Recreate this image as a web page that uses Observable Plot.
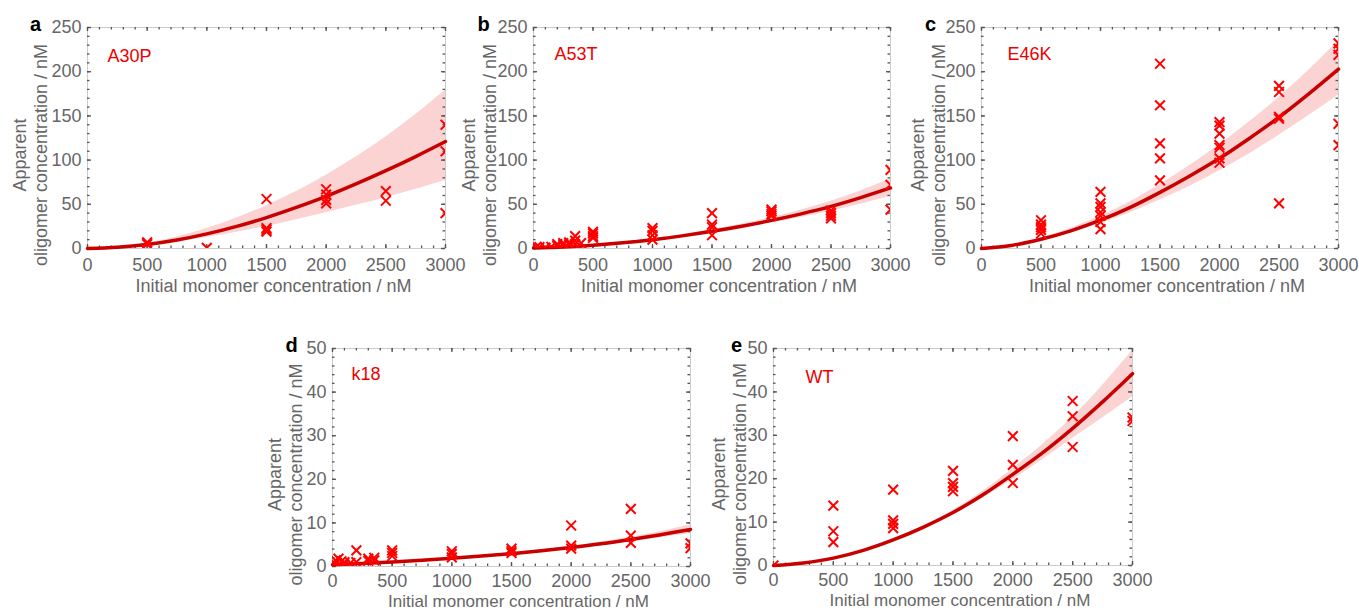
<!DOCTYPE html>
<html><head><meta charset="utf-8">
<script src="https://cdn.jsdelivr.net/npm/d3@7"></script>
<script src="https://cdn.jsdelivr.net/npm/@observablehq/plot@0.6"></script>
<style>
html,body{margin:0;padding:0;background:#fff;overflow:hidden;}
#fig{position:relative;width:1359px;height:610px;overflow:hidden;background:#fff;}
.panel{position:absolute;}
</style></head><body><div id="fig"></div>
<script>
// ---- shared axes ----
const xTicks = [0, 500, 1000, 1500, 2000, 2500, 3000];
const yTicksTop = [0, 50, 100, 150, 200, 250];
const yTicksBottom = [0, 10, 20, 30, 40, 50];
const xLabel = "Initial monomer concentration / nM";
const yLabel = "Apparent\noligomer concentration / nM";
const fitX = [0, 250, 500, 750, 1000, 1250, 1500, 1750, 2000, 2250, 2500, 2750, 3000];

// ---- a: A30P ----
const a30pX = [500, 500, 1000, 1500, 1500, 1500, 1500, 2000, 2000, 2000, 2000, 2500, 2500, 3000, 3000, 3000];
const a30pY = [7, 5, 0.8, 56, 23, 21, 19, 67, 61, 55, 51, 65, 54, 140, 110, 40];
const a30pFit = [0, 1.4, 4.6, 9.6, 16.5, 25, 35, 46.5, 59, 73, 88, 104, 121];
const a30pUpper = [0, 1.7, 6, 13, 22.5, 34.5, 48.5, 64.5, 83, 103.5, 126, 151.5, 179];
const a30pLower = [0, 1.2, 3.6, 7.4, 12.4, 18.3, 25, 32.5, 40.5, 48.8, 57.5, 67, 77];

// ---- b: A53T ----
const a53tX = [25, 50, 100, 150, 200, 200, 250, 250, 300, 300, 350, 350, 350, 400, 500, 500, 500, 500, 1000, 1000, 1000, 1000, 1500, 1500, 1500, 1500, 2000, 2000, 2000, 2000, 2500, 2500, 2500, 2500, 3000, 3000, 3000];
const a53tY = [2, 1.5, 1, 2, 3, 5, 4, 6, 5, 7, 14, 9, 5, 6, 19, 17, 14, 12, 23, 20, 15, 10, 40, 27, 24, 15, 44, 42, 39, 37, 43, 40, 37, 34, 89, 72, 44];
const a53tFit = [0.5, 1.6, 3.6, 6.4, 10, 14.3, 19.4, 25.2, 31.8, 39.2, 47.6, 57.6, 68.5];
const a53tUpper = [0.6, 1.8, 4, 7, 11, 15.8, 21.3, 27.7, 35, 43.6, 53.5, 65, 78.5];
const a53tLower = [0.4, 1.4, 3.2, 5.8, 9, 12.8, 17.5, 22.8, 28.8, 35.2, 42.2, 50, 59];

// ---- c: E46K ----
const e46kX = [500, 500, 500, 500, 500, 1000, 1000, 1000, 1000, 1000, 1000, 1000, 1500, 1500, 1500, 1500, 1500, 2000, 2000, 2000, 2000, 2000, 2000, 2000, 2500, 2500, 2500, 2500, 2500, 3000, 3000, 3000, 3000, 3000];
const e46kY = [32, 27, 24, 21, 17, 64, 51, 47, 41, 37, 30, 22, 209, 162, 119, 102, 77, 143, 139, 130, 117, 114, 102, 97, 184, 177, 149, 147, 51, 232, 226, 219, 141, 117];
const e46kFit = [0, 3.4, 10.5, 20, 32, 46.5, 63.5, 82, 102, 124.5, 148.5, 175, 203];
const e46kUpper = [0, 3.8, 12, 23, 36.5, 53, 72.5, 94, 117.5, 143, 171, 201.5, 235];
const e46kLower = [0, 3, 9.2, 17.5, 28, 40.5, 55, 70.5, 88, 107, 128, 150.5, 173.5];

// ---- d: k18 ----
const k18X = [25, 25, 50, 75, 100, 100, 150, 200, 200, 300, 300, 350, 350, 500, 500, 500, 1000, 1000, 1000, 1500, 1500, 1500, 2000, 2000, 2000, 2500, 2500, 2500, 3000, 3000];
const k18Y = [1.4, 0.6, 1.8, 1.2, 1.0, 0.5, 0.8, 3.7, 1.0, 1.8, 1.3, 2.0, 1.4, 3.7, 3.1, 2.4, 3.5, 2.9, 2.1, 4.1, 3.5, 3.1, 9.4, 4.8, 4.1, 13.2, 7.1, 5.4, 5.3, 4.2];
const k18Fit = [0.4, 0.7, 1.05, 1.45, 1.9, 2.4, 2.95, 3.6, 4.35, 5.2, 6.2, 7.3, 8.5];
const k18Upper = [0.4, 0.7, 1.1, 1.55, 2.0, 2.55, 3.15, 3.85, 4.65, 5.6, 6.7, 8.0, 9.6];
const k18Lower = [0.4, 0.7, 1.0, 1.35, 1.8, 2.25, 2.75, 3.35, 4.05, 4.8, 5.7, 6.6, 7.5];

// ---- e: WT ----
const wtX = [0, 500, 500, 500, 1000, 1000, 1000, 1000, 1500, 1500, 1500, 1500, 2000, 2000, 2000, 2500, 2500, 2500, 3000, 3000];
const wtY = [0, 13.8, 7.9, 5.4, 17.5, 10.4, 9.6, 8.6, 21.8, 19, 18.1, 17.1, 29.8, 23.2, 19, 37.9, 34.4, 27.3, 34.1, 33.3];
const wtFit = [0, 0.6, 1.7, 3.5, 5.9, 8.8, 12.2, 16.3, 21, 26, 31.6, 37.7, 44.2];
const wtUpper = [0, 0.6, 1.75, 3.6, 6.1, 9.1, 12.7, 17.1, 22.3, 27.9, 34.2, 41.5, 49.6];
const wtLower = [0, 0.6, 1.65, 3.4, 5.7, 8.5, 11.7, 15.5, 19.8, 24.4, 29.3, 34, 38.8];

const FONT = "'Liberation Sans', Arial, Helvetica, sans-serif";
const GRAY = "#666";

function panel(cfg) {
  const ml = 90, mt = 25, mr = 20, mb = 50;
  const {L, T, W, H} = cfg;
  const pts = cfg.px.map((x, i) => ({x, y: cfg.py[i]}));
  const curve = fitX.map((x, i) => ({x, y: cfg.fit[i], lo: cfg.lower[i], hi: cfg.upper[i]}));
  const xMinor = d3.range(0, 3001, 100);
  const yMinor = d3.range(0, cfg.yMax + 1e-9, cfg.yMinorStep);
  const tickStyle = {stroke: "#555", strokeWidth: 1.3};
  const tl = 2.5, tM = 4;
  const plot = Plot.plot({
    width: ml + W + mr, height: mt + H + mb,
    marginLeft: ml, marginTop: mt, marginRight: mr, marginBottom: mb,
    style: {fontFamily: FONT, background: "transparent", overflow: "visible"},
    x: {domain: [0, 3000], label: null},
    y: {domain: [0, cfg.yMax], label: null},
    marks: [
      Plot.areaY(curve, {x: "x", y1: "lo", y2: "hi", fill: "#fbd3d3", curve: "catmull-rom"}),
      Plot.frame({stroke: "#cbcbcb", strokeWidth: 1}),
      Plot.tickX(xMinor, {x: d => d, insetTop: H - tl, ...tickStyle}),
      Plot.tickX(xMinor, {x: d => d, insetBottom: H - tl, ...tickStyle}),
      Plot.tickY(yMinor, {y: d => d, insetRight: W - tl, ...tickStyle}),
      Plot.tickY(yMinor, {y: d => d, insetLeft: W - tl, ...tickStyle}),
      Plot.tickX(xTicks, {x: d => d, insetTop: H - tM, ...tickStyle}),
      Plot.tickX(xTicks, {x: d => d, insetBottom: H - tM, ...tickStyle}),
      Plot.tickY(cfg.yTicks, {y: d => d, insetRight: W - tM, ...tickStyle}),
      Plot.tickY(cfg.yTicks, {y: d => d, insetLeft: W - tM, ...tickStyle}),
      Plot.line(curve, {x: "x", y: "y", stroke: "#c80000", strokeWidth: 3.5, curve: "catmull-rom"}),
      Plot.dot(pts, {x: "x", y: "y", symbol: "times", r: 4.5, stroke: "#ff0000", strokeWidth: 2, clip: true}),
      Plot.axisX({ticks: xTicks, tickFormat: d => String(d), tickSize: 0, tickPadding: cfg.xPad, fontSize: 18, fill: GRAY, label: null}),
      Plot.axisY({ticks: cfg.yTicks, tickFormat: d => String(d), tickSize: 0, tickPadding: 6, fontSize: 18, fill: GRAY, label: null}),
      Plot.text([xLabel], {text: d => d, frameAnchor: "bottom", textAnchor: "middle", dx: 7, dy: cfg.xlabDy, fontSize: cfg.xlabSize, fill: GRAY, lineAnchor: "middle"}),
      Plot.text([yLabel], {text: d => d, frameAnchor: "left", textAnchor: "middle", rotate: -90, dx: cfg.ylabDx, dy: 17, fontSize: 18, fill: GRAY, lineAnchor: "middle", lineHeight: 1.17}),
      Plot.text([cfg.name], {text: d => d, frameAnchor: "top-left", dx: cfg.nameDx, dy: cfg.nameDy, textAnchor: "start", fontSize: 18, fill: "#ee0000", lineAnchor: "middle"}),
      Plot.text([cfg.letter], {text: d => d, frameAnchor: "top-left", textAnchor: "middle", dx: cfg.letterDx, dy: -3.4, fontSize: 20, fontWeight: "bold", fill: "#000", lineAnchor: "middle"})
    ]
  });
  const div = document.createElement("div");
  div.className = "panel";
  div.style.left = (L - ml) + "px";
  div.style.top = (T - mt) + "px";
  div.appendChild(plot);
  document.getElementById("fig").appendChild(div);
}

panel({letter: "a", name: "A30P", px: a30pX, py: a30pY, fit: a30pFit, upper: a30pUpper, lower: a30pLower,
  yMax: 250, yTicks: yTicksTop, yMinorStep: 10, L: 87, T: 27, W: 358, H: 221,
  ylabDx: -57.5, nameDx: 20, nameDy: 28.9, letterDx: -52, xlabDy: 38, xlabSize: 18, xPad: 10});
panel({letter: "b", name: "A53T", px: a53tX, py: a53tY, fit: a53tFit, upper: a53tUpper, lower: a53tLower,
  yMax: 250, yTicks: yTicksTop, yMinorStep: 10, L: 533, T: 27, W: 357, H: 221,
  ylabDx: -54.5, nameDx: 21, nameDy: 27.2, letterDx: -50, xlabDy: 38, xlabSize: 18, xPad: 10});
panel({letter: "c", name: "E46K", px: e46kX, py: e46kY, fit: e46kFit, upper: e46kUpper, lower: e46kLower,
  yMax: 250, yTicks: yTicksTop, yMinorStep: 10, L: 981, T: 27, W: 357, H: 221,
  ylabDx: -53.5, nameDx: 26, nameDy: 27.2, letterDx: -51, xlabDy: 38, xlabSize: 18, xPad: 10});
panel({letter: "d", name: "k18", px: k18X, py: k18Y, fit: k18Fit, upper: k18Upper, lower: k18Lower,
  yMax: 50, yTicks: yTicksBottom, yMinorStep: 2, L: 332, T: 348, W: 358, H: 218,
  ylabDx: -47.5, nameDx: 19, nameDy: 26.2, letterDx: -41, xlabDy: 35.5, xlabSize: 17, xPad: 8});
panel({letter: "e", name: "WT", px: wtX, py: wtY, fit: wtFit, upper: wtUpper, lower: wtLower,
  yMax: 50, yTicks: yTicksBottom, yMinorStep: 2, L: 773, T: 348, W: 359, H: 217,
  ylabDx: -44.5, nameDx: 32, nameDy: 28.5, letterDx: -37, xlabDy: 35.5, xlabSize: 17, xPad: 8});
</script></body></html>
